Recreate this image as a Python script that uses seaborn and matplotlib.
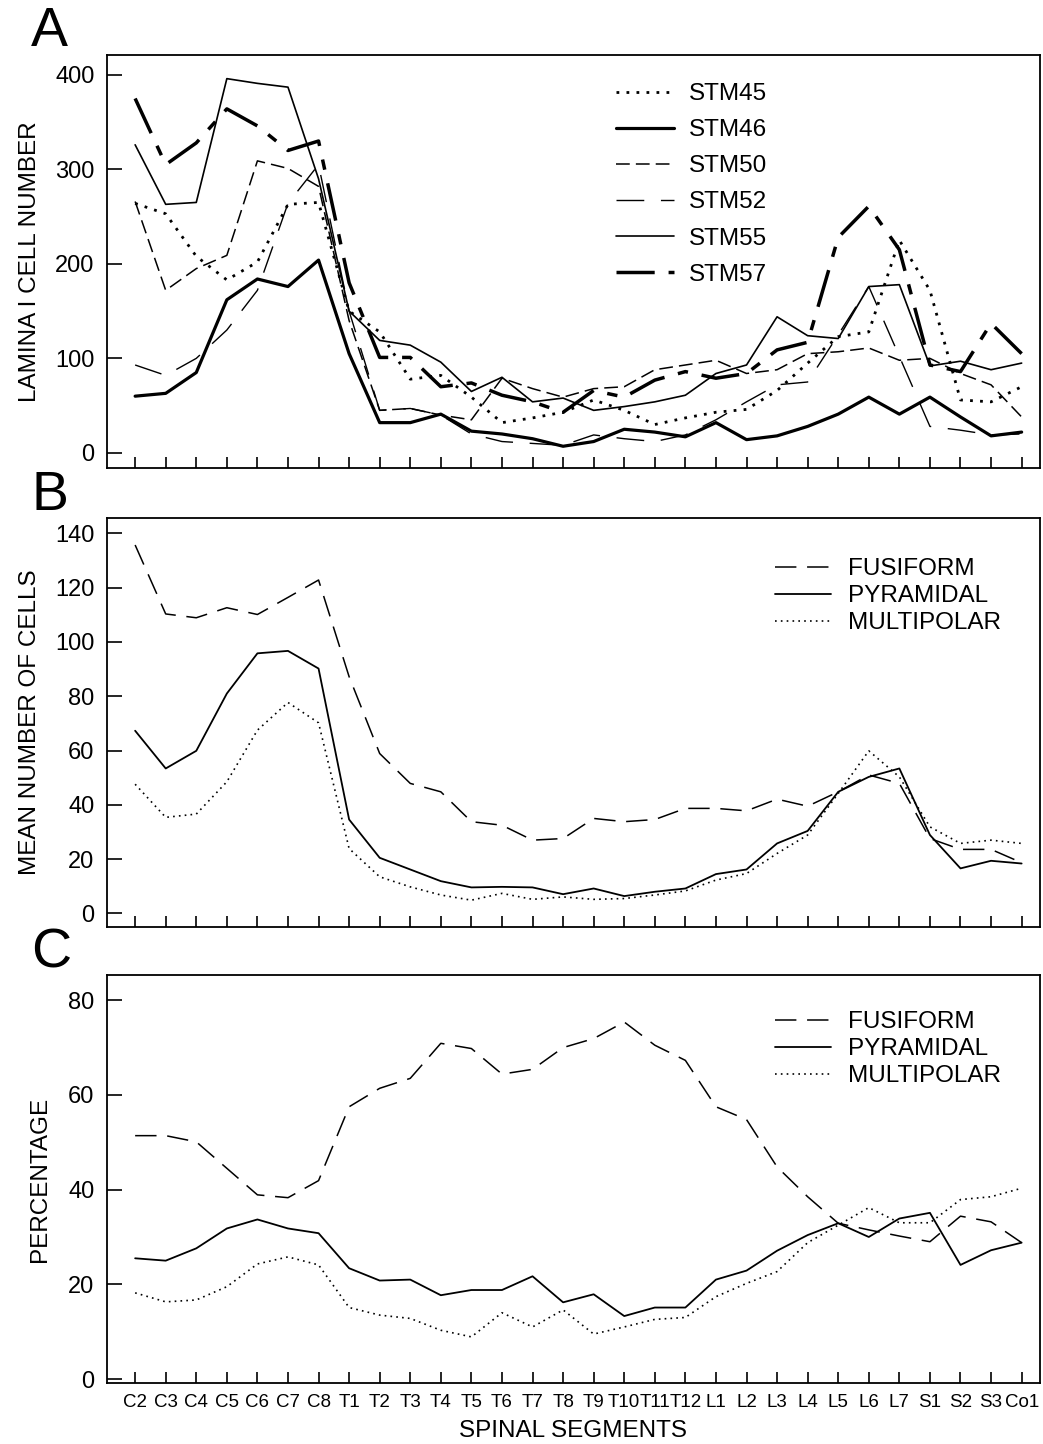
import numpy as np
import pandas as pd
import seaborn as sns
import matplotlib
matplotlib.use("Agg")
import matplotlib.pyplot as plt

sns.set_style("ticks")
plt.rcParams['font.family'] = ['Liberation Sans', 'DejaVu Sans']
plt.rcParams['text.color'] = 'black'
plt.rcParams['axes.labelcolor'] = 'black'
plt.rcParams['xtick.color'] = 'black'
plt.rcParams['ytick.color'] = 'black'

# spinal segments along the x axis
segments = ["C2", "C3", "C4", "C5", "C6", "C7", "C8",
            "T1", "T2", "T3", "T4", "T5", "T6", "T7", "T8", "T9", "T10", "T11", "T12",
            "L1", "L2", "L3", "L4", "L5", "L6", "L7", "S1", "S2", "S3", "Co1"]

# panel A: lamina I cell number per animal
stm45 = [264, 253, 208, 183, 202, 263, 265, 150, 128, 78, 82, 59, 32, 37, 43, 56, 45, 30, 37, 43, 46, 66, 95, 123, 128, 225, 172, 56, 54, 70]
stm46 = [60, 63, 85, 162, 184, 176, 204, 105, 32, 32, 41, 23, 20, 15, 7, 12, 25, 22, 17, 32, 14, 18, 28, 41, 59, 41, 59, 38, 18, 22]
stm50 = [266, 172, 195, 209, 309, 301, 282, 140, 45, 47, 40, 35, 79, 68, 59, 68, 70, 88, 93, 98, 84, 88, 105, 107, 111, 98, 100, 84, 72, 38]
stm52 = [93, 82, 100, 130, 172, 264, 305, 150, 45, 47, 40, 20, 12, 10, 8, 19, 15, 12, 19, 35, 54, 72, 75, 125, 176, 102, 28, 24, 19, 20]
stm55 = [326, 263, 265, 396, 391, 387, 290, 150, 119, 114, 96, 65, 80, 54, 58, 45, 49, 54, 61, 84, 93, 144, 124, 121, 176, 178, 92, 97, 88, 95]
stm57 = [375, 305, 328, 364, 346, 320, 330, 180, 101, 101, 70, 74, 61, 54, 43, 66, 59, 77, 86, 79, 84, 109, 117, 228, 261, 215, 93, 86, 137, 105]

# panel B: mean number of cells by type
fus_mean = [135.7, 110.3, 108.9, 112.6, 110.1, 116.4, 122.8, 87.2, 58.9, 47.9, 44.8, 33.8, 32.5, 27.0, 27.6,
            35.0, 33.8, 34.6, 38.7, 38.7, 37.8, 42.1, 39.5, 44.8, 51.0, 47.9, 27.6, 23.6, 23.6, 18.7]
pyr_mean = [67.3, 53.4, 59.9, 81.0, 95.8, 96.7, 90.2, 34.6, 20.5, 16.2, 11.9, 9.6, 9.8, 9.6, 7.1,
            9.2, 6.4, 8.0, 9.2, 14.5, 16.2, 25.8, 30.4, 44.8, 50.3, 53.4, 28.9, 16.6, 19.4, 18.4]
mul_mean = [47.6, 35.4, 36.6, 48.5, 67.5, 77.7, 70.2, 23.9, 13.5, 9.8, 6.8, 4.9, 7.4, 5.2, 6.1,
            5.2, 5.5, 6.8, 8.3, 12.3, 14.7, 22.1, 28.9, 44.2, 59.9, 50.3, 31.9, 25.8, 27.0, 25.8]

# panel C: percentage by type
fus_pct = [51.4, 51.4, 50.1, 44.5, 38.9, 38.3, 41.9, 57.5, 61.4, 63.5, 70.9, 69.8, 64.4, 65.4, 70.0,
           71.9, 75.4, 70.5, 67.3, 57.5, 54.8, 44.8, 38.5, 32.9, 31.5, 30.2, 29.0, 34.4, 33.2, 28.8]
pyr_pct = [25.5, 25.0, 27.6, 31.8, 33.7, 31.8, 30.8, 23.4, 20.8, 21.0, 17.7, 18.8, 18.8, 21.7, 16.2,
           17.9, 13.3, 15.1, 15.1, 21.0, 22.9, 27.1, 30.4, 32.9, 30.0, 33.9, 35.1, 24.1, 27.2, 28.8]
mul_pct = [18.2, 16.3, 16.7, 19.5, 24.3, 25.8, 24.1, 15.1, 13.5, 12.8, 10.3, 8.9, 14.0, 11.0, 14.6,
           9.5, 11.0, 12.6, 13.0, 17.4, 20.2, 22.7, 28.8, 32.5, 36.2, 33.0, 33.0, 37.9, 38.5, 40.3]

xpos = np.arange(len(segments))

fig = plt.figure(figsize=(10.43, 14.44), dpi=100)
axA = fig.add_axes([0.1026, 0.6759, 0.8945, 0.286])
axB = fig.add_axes([0.1026, 0.358, 0.8945, 0.2832])
axC = fig.add_axes([0.1026, 0.0422, 0.8945, 0.2825])

animal_styles = [
    ("STM45", stm45, 2.0, (0, (1, 2.6))),
    ("STM46", stm46, 2.3, "-"),
    ("STM50", stm50, 1.1, (0, (9, 4))),
    ("STM52", stm52, 1.0, (0, (20, 12))),
    ("STM55", stm55, 1.2, "-"),
    ("STM57", stm57, 2.5, (0, (11, 4, 3, 4))),
]
for name, vals, lw, ls in animal_styles:
    sns.lineplot(x=xpos, y=vals, ax=axA, color="black", linewidth=lw,
                 linestyle=ls, label=name, sort=False)

type_styles = [
    ("FUSIFORM", 1.1, (0, (14, 7))),
    ("PYRAMIDAL", 1.3, "-"),
    ("MULTIPOLAR", 1.2, (0, (1, 2.5))),
]
for (name, lw, ls), vals in zip(type_styles, [fus_mean, pyr_mean, mul_mean]):
    sns.lineplot(x=xpos, y=vals, ax=axB, color="black", linewidth=lw,
                 linestyle=ls, label=name, sort=False)
for (name, lw, ls), vals in zip(type_styles, [fus_pct, pyr_pct, mul_pct]):
    sns.lineplot(x=xpos, y=vals, ax=axC, color="black", linewidth=lw,
                 linestyle=ls, label=name, sort=False)

axA.set_ylim(-16, 421)
axA.set_yticks([0, 100, 200, 300, 400])
axB.set_ylim(-5, 145.6)
axB.set_yticks([0, 20, 40, 60, 80, 100, 120, 140])
axC.set_ylim(-0.85, 85.3)
axC.set_yticks([0, 20, 40, 60, 80])

for ax in (axA, axB, axC):
    ax.set_xlim(-0.92, 29.6)
    ax.set_xticks(xpos)
    for sp in ax.spines.values():
        sp.set_visible(True)
        sp.set_linewidth(1.3)
        sp.set_color("black")
    ax.tick_params(axis="y", direction="in", length=11, width=1.2, pad=9,
                   labelsize=17, left=True, right=False)
    ax.tick_params(axis="x", direction="in", length=8, width=1.2, pad=8,
                   labelsize=13.5, top=False)
    ax.set_xlabel("")

axA.set_xticklabels([])
axB.set_xticklabels([])
axC.set_xticklabels(segments)

axA.set_ylabel("LAMINA I CELL NUMBER", fontsize=17.5, labelpad=10)
axB.set_ylabel("MEAN NUMBER OF CELLS", fontsize=17.5, labelpad=10)
axC.set_ylabel("PERCENTAGE", fontsize=17.5, labelpad=12)
axC.set_xlabel("SPINAL SEGMENTS", fontsize=17.5, labelpad=6)

axA.legend(loc="upper left", bbox_to_anchor=(0.522, 0.985), frameon=False,
           fontsize=17.5, handlelength=2.4, labelspacing=0.58, handletextpad=0.6)
axB.legend(loc="upper left", bbox_to_anchor=(0.693, 0.955), frameon=False,
           fontsize=17.5, handlelength=2.3, labelspacing=0.2, handletextpad=0.7)
axC.legend(loc="upper left", bbox_to_anchor=(0.693, 0.965), frameon=False,
           fontsize=17.5, handlelength=2.3, labelspacing=0.2, handletextpad=0.7)

fig.text(0.030, 0.968, "A", fontsize=40)
fig.text(0.030, 0.647, "B", fontsize=40)
fig.text(0.030, 0.330, "C", fontsize=40)

fig.savefig("out.png", dpi=100)
